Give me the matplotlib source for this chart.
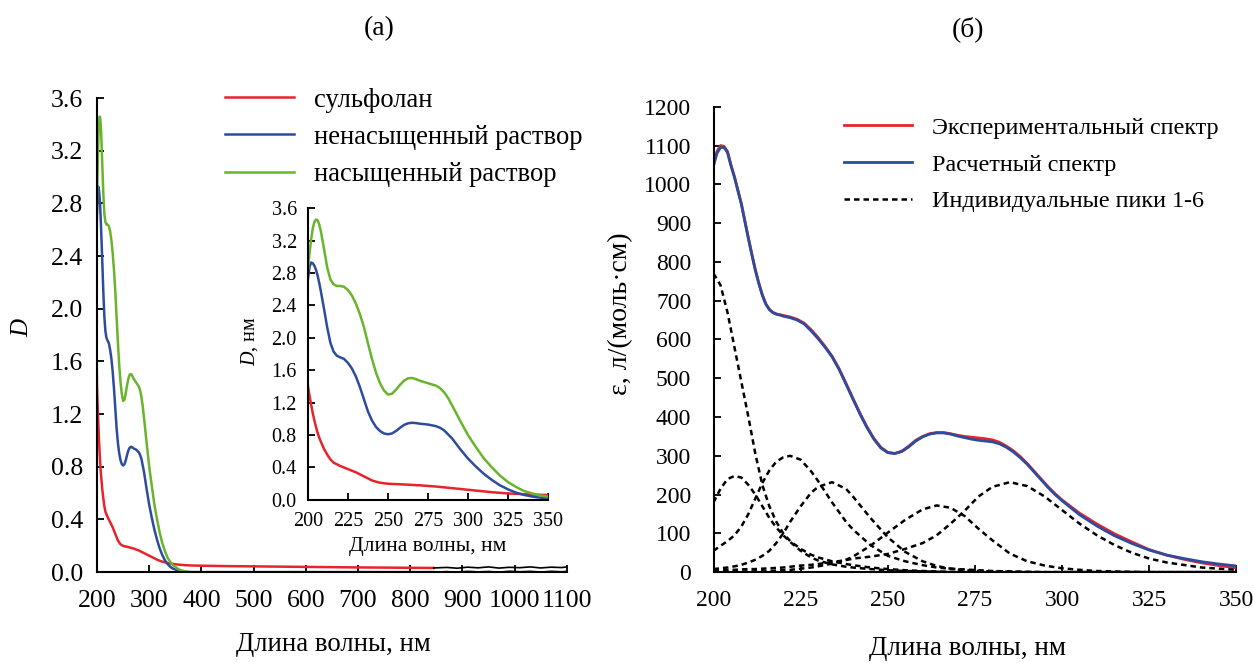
import matplotlib
matplotlib.use('Agg')
import matplotlib.pyplot as plt  # noqa: E402

plt.rcParams['font.family'] = ['Liberation Serif', 'DejaVu Serif']
plt.rcParams['mathtext.fontset'] = 'custom'
plt.rcParams['mathtext.it'] = 'Liberation Serif:italic'
plt.rcParams['mathtext.rm'] = 'Liberation Serif'

# ------------------------------------------------------------------
# (а) absorbance spectra, D vs wavelength
# ------------------------------------------------------------------
wl_uv = [198, 200, 201, 202, 203, 204, 205, 206, 207, 208, 210, 212, 214, 216,
         218, 220, 222.5, 225, 227.5, 230, 232.5, 235, 237.5, 240, 242.5, 245,
         247.5, 250, 252.5, 255, 257.5, 260, 262.5, 265, 267.5, 270, 275, 280,
         282.5, 285, 287.5, 290, 295, 300, 305, 310, 315, 320, 325, 330, 335,
         340, 345, 350, 355, 360, 370, 380, 400, 450, 500, 600, 700, 845]
d_sulfolane = [1.9, 1.40, 1.28, 1.17, 1.07, 0.98, 0.90, 0.83, 0.77, 0.72, 0.63,
               0.56, 0.50, 0.46, 0.44, 0.42, 0.40, 0.38, 0.36, 0.34, 0.315, 0.29,
               0.265, 0.24, 0.225, 0.212, 0.205, 0.20, 0.197, 0.195, 0.193, 0.19,
               0.188, 0.185, 0.182, 0.18, 0.172, 0.165, 0.16, 0.155, 0.15, 0.145,
               0.135, 0.125, 0.115, 0.105, 0.095, 0.087, 0.08, 0.075, 0.07, 0.066,
               0.063, 0.06, 0.058, 0.056, 0.053, 0.051, 0.049, 0.046, 0.044,
               0.04, 0.036, 0.032]
d_unsat = [2.5, 2.73, 2.88, 2.93, 2.92, 2.89, 2.84, 2.77, 2.68, 2.58, 2.36, 2.13,
           1.94, 1.83, 1.78, 1.76, 1.74, 1.69, 1.62, 1.52, 1.39, 1.24, 1.09, 0.98,
           0.90, 0.85, 0.82, 0.81, 0.82, 0.85, 0.89, 0.925, 0.945, 0.952, 0.948,
           0.94, 0.93, 0.91, 0.89, 0.86, 0.81, 0.76, 0.63, 0.51, 0.41, 0.32,
           0.245, 0.18, 0.13, 0.09, 0.062, 0.042, 0.028, 0.02, 0.012, 0.007,
           0.002, 0.0, 0.0, 0.0, 0.0, 0.0, 0.0, 0.0]
d_sat = [2.6, 2.85, 3.05, 3.22, 3.35, 3.43, 3.46, 3.45, 3.40, 3.32, 3.10, 2.87,
         2.72, 2.66, 2.64, 2.64, 2.63, 2.59, 2.52, 2.42, 2.29, 2.13, 1.93, 1.74,
         1.57, 1.44, 1.35, 1.30, 1.31, 1.36, 1.42, 1.47, 1.50, 1.505, 1.49, 1.47,
         1.44, 1.41, 1.38, 1.33, 1.26, 1.17, 0.98, 0.80, 0.65, 0.51, 0.40, 0.30,
         0.22, 0.16, 0.11, 0.08, 0.055, 0.04, 0.025, 0.015, 0.005, 0.001, 0.0,
         0.0, 0.0, 0.0, 0.0, 0.0]

# NIR part of the record (black, noisy)
wl_nir = [845, 870, 890, 910, 930, 950, 970, 990, 1010, 1030, 1050, 1070, 1090, 1100]
d_nir_top = [0.032, 0.036, 0.03, 0.038, 0.033, 0.04, 0.031, 0.037, 0.034, 0.04,
             0.032, 0.038, 0.035, 0.04]
d_nir_low = [0.0, 0.004, 0.0, 0.006, 0.002, 0.005, 0.0, 0.007, 0.003, 0.006,
             0.001, 0.006, 0.003, 0.005]

# ------------------------------------------------------------------
# (б) molar absorption, experimental vs fitted + individual peaks
# ------------------------------------------------------------------
wl_eps = [200, 201, 202, 203, 204, 205, 206, 207, 208, 209, 210, 211, 212, 213,
          214, 215, 216, 217, 218, 219, 220, 222, 224, 226, 228, 230, 232, 234,
          236, 238, 240, 242, 244, 246, 248, 250, 252, 254, 256, 258, 260, 262,
          264, 266, 268, 270, 272, 274, 276, 278, 280, 282, 284, 286, 288, 290,
          292, 294, 296, 298, 300, 305, 310, 315, 320, 325, 330, 335, 340, 345, 350]
eps_exp = [1052, 1085, 1100, 1098, 1085, 1050, 1020, 985, 950, 905, 862, 820, 780,
           745, 715, 692, 678, 670, 666, 664, 662, 658, 652, 642, 625, 605, 582,
           557, 525, 487, 448, 410, 375, 345, 322, 309, 306, 312, 325, 340, 350,
           357, 360, 360, 357, 353, 350, 348, 346, 344, 341, 335, 325, 313, 298,
           280, 260, 240, 220, 202, 186, 152, 124, 99, 78, 58, 44, 33, 24, 17, 11]
eps_fit = [1048, 1080, 1095, 1095, 1082, 1048, 1018, 983, 948, 904, 860, 818, 778,
           744, 714, 691, 677, 669, 665, 663, 660, 656, 650, 640, 622, 602, 580,
           555, 523, 485, 446, 408, 373, 343, 320, 308, 306, 311, 323, 338, 349,
           356, 359, 359, 356, 351, 347, 343, 340, 338, 336, 331, 322, 310, 295,
           278, 258, 238, 218, 200, 184, 148, 119, 94, 74, 57, 44, 35, 27, 21, 16]

wl_peak = [200, 202, 204, 206, 208, 210, 212, 214, 216, 218, 220, 222, 225, 228,
           230, 234, 238, 240, 245, 250, 255, 260, 264, 268, 272, 276, 280, 285,
           290, 295, 300, 305, 310, 315, 320, 325, 330, 340, 350]
peak1 = [770, 740, 670, 580, 490, 400, 305, 225, 170, 130, 100, 80, 60, 45, 38,
         28, 21, 18, 12, 8, 5, 3, 2, 1, 0, 0, 0, 0, 0, 0, 0, 0, 0, 0, 0, 0, 0, 0, 0]
peak2 = [180, 215, 240, 248, 244, 225, 200, 170, 140, 115, 95, 78, 55, 38, 30,
         20, 14, 12, 8, 5, 3, 2, 1, 0, 0, 0, 0, 0, 0, 0, 0, 0, 0, 0, 0, 0, 0, 0, 0]
peak3 = [55, 68, 80, 95, 118, 150, 190, 230, 262, 285, 296, 300, 290, 260, 235,
         180, 130, 110, 70, 42, 28, 18, 12, 9, 7, 5, 3, 2, 1, 0, 0, 0, 0, 0, 0,
         0, 0, 0, 0]
peak4 = [8, 10, 12, 15, 19, 25, 32, 42, 55, 75, 100, 130, 170, 205, 220, 232,
         215, 195, 140, 90, 52, 28, 16, 9, 5, 3, 2, 1, 0, 0, 0, 0, 0, 0, 0, 0,
         0, 0, 0]
peak5 = [0, 0, 1, 1, 1, 2, 2, 3, 3, 4, 5, 6, 9, 12, 15, 22, 32, 40, 68, 102,
         135, 162, 172, 166, 145, 112, 82, 48, 28, 17, 10, 6, 3, 2, 1, 0, 0, 0, 0]
peak6 = [5, 5, 6, 6, 7, 8, 8, 9, 10, 11, 12, 14, 17, 19, 21, 26, 31, 35, 40,
         47, 60, 75, 95, 125, 158, 195, 220, 232, 222, 195, 160, 125, 95, 70, 50,
         35, 25, 12, 6]

RED = '#e8232b'
BLUE = '#2e4c9e'
GREEN = '#6ab42d'

fig = plt.figure(figsize=(12.54, 6.63), dpi=100)


def style_axes(ax, labelsize, pad):
    for side in ('top', 'right'):
        ax.spines[side].set_visible(False)
    for side in ('left', 'bottom'):
        ax.spines[side].set_linewidth(1.5)
    ax.tick_params(direction='in', length=5, width=1.3, labelsize=labelsize, pad=pad)


d_ticks = [i * 0.4 for i in range(10)]
d_labels = [f'{t:.1f}' for t in d_ticks]

# ---------------- panel (а) ----------------
ax1 = fig.add_axes([0.0774, 0.137, 0.3746, 0.715])
ax1.plot(wl_uv, d_sulfolane, color=RED, lw=1.8, label='сульфолан')
ax1.plot(wl_uv, d_unsat, color=BLUE, lw=1.8, label='ненасыщенный раствор')
ax1.plot(wl_uv, d_sat, color=GREEN, lw=1.8, label='насыщенный раствор')
ax1.plot(wl_nir, d_nir_top, color='black', lw=1.2)
ax1.plot(wl_nir, d_nir_low, color='black', lw=1.2)
ax1.set_xlim(200, 1100)
ax1.set_ylim(0, 3.6)
ax1.set_xticks(range(200, 1101, 100))
ax1.set_yticks(d_ticks)
ax1.set_yticklabels(d_labels)
style_axes(ax1, 18.5, 10)
ax1.tick_params(axis='x', pad=13)
ax1.set_xlabel('Длина волны, нм', fontsize=19.3)
ax1.xaxis.set_label_coords(0.503, -0.127)
ax1.set_ylabel('$D$', fontsize=18)
ax1.yaxis.set_label_coords(-0.136, 0.517)
ax1.legend(loc='upper left', bbox_to_anchor=(0.1794, 0.868),
           bbox_transform=fig.transFigure, frameon=False, borderpad=0,
           borderaxespad=0, fontsize=19.2, handlelength=2.58,
           handletextpad=0.76, labelspacing=0.46)

# inset
axi = fig.add_axes([0.2456, 0.246, 0.1914, 0.44])
axi.plot(wl_uv, d_sulfolane, color=RED, lw=1.8)
axi.plot(wl_uv, d_unsat, color=BLUE, lw=1.8)
axi.plot(wl_uv, d_sat, color=GREEN, lw=1.8)
axi.set_xlim(200, 350)
axi.set_ylim(0, 3.6)
axi.set_xticks(range(200, 351, 25))
axi.set_yticks(d_ticks)
axi.set_yticklabels(d_labels)
style_axes(axi, 14.5, 8)
axi.tick_params(axis='x', pad=9)
axi.patch.set_alpha(0)
axi.set_xlabel('Длина волны, нм', fontsize=15.5)
axi.xaxis.set_label_coords(0.5, -0.128)
axi.set_ylabel('$D$, нм', fontsize=14.5)
axi.yaxis.set_label_coords(-0.2, 0.543)

# ---------------- panel (б) ----------------
ax2 = fig.add_axes([0.569, 0.137, 0.417, 0.702])
ax2.plot(wl_eps, eps_exp, color=RED, lw=2.0, label='Экспериментальный спектр')
ax2.plot(wl_eps, eps_fit, color=BLUE, lw=2.0, label='Расчетный спектр')
for i, pk in enumerate([peak1, peak2, peak3, peak4, peak5, peak6]):
    ax2.plot(wl_peak, pk, color='black', lw=1.8, ls=(0, (2.2, 1.6)),
             label='Индивидуальные пики 1-6' if i == 0 else None)
ax2.set_xlim(200, 350)
ax2.set_ylim(0, 1200)
ax2.set_xticks(range(200, 351, 25))
ax2.set_yticks(range(0, 1201, 100))
style_axes(ax2, 17, 16)
ax2.tick_params(axis='x', pad=13)
ax2.set_xlabel('Длина волны, нм', fontsize=19.5)
ax2.xaxis.set_label_coords(0.486, -0.138)
ax2.set_ylabel('ε, л/(моль·см)', fontsize=20)
ax2.yaxis.set_label_coords(-0.153, 0.555)
ax2.legend(loc='upper left', bbox_to_anchor=(0.673, 0.8236),
           bbox_transform=fig.transFigure, frameon=False, borderpad=0,
           borderaxespad=0, fontsize=17.4, handlelength=2.8,
           handletextpad=0.83, labelspacing=0.61)

fig.text(379 / 1254, 1 - 29 / 663, '(а)', ha='center', va='center', fontsize=20)
fig.text(968 / 1254, 1 - 29 / 663, '(б)', ha='center', va='center', fontsize=20)

fig.savefig('out.png', dpi=100)
